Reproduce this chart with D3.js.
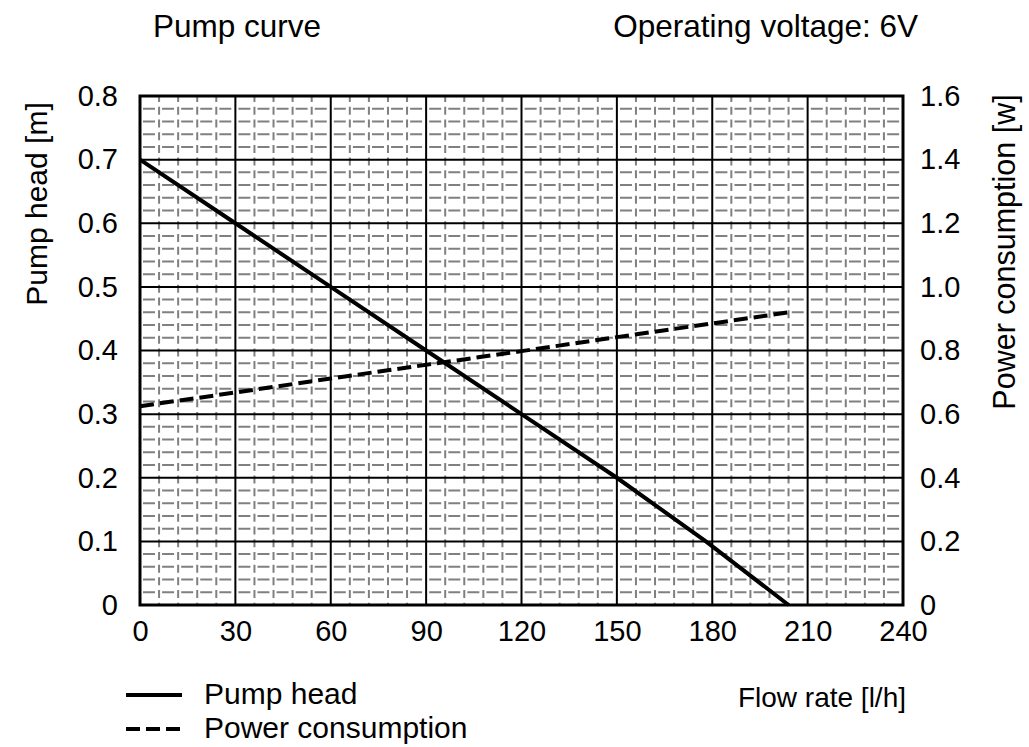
<!DOCTYPE html>
<html><head><meta charset="utf-8">
<script src="https://cdn.jsdelivr.net/npm/d3@7"></script>
<style>body{margin:0;background:#fff}text{font-family:"Liberation Sans",Arial,sans-serif;fill:#000}</style>
</head><body><svg id="c" width="1029" height="747"></svg>
<script>
const xTicks = [0,30,60,90,120,150,180,210,240];
const yLeftTicks = [0,0.1,0.2,0.3,0.4,0.5,0.6,0.7,0.8];
const yRightTicks = [0,0.2,0.4,0.6,0.8,1.0,1.2,1.4,1.6];
const headFlow = [0,30,60,90,120,150,178,204];
const headValues = [0.7,0.6,0.5,0.4,0.3,0.2,0.1,0];
const powerFlow = [0,30,60,90,120,150,180,204];
const powerValues = [0.625,0.668,0.712,0.755,0.798,0.842,0.885,0.92];

const svg = d3.select("#c");
const L=140,R=903,T=96,B=605;
const x = d3.scaleLinear().domain([0,240]).range([L,R]);
const yl = d3.scaleLinear().domain([0,0.8]).range([B,T]);
const yr = d3.scaleLinear().domain([0,1.6]).range([B,T]);

// minor grid
const minorX = d3.range(0,241,6).filter(v=>v%30!==0);
const minorY = d3.range(0,81,2).filter(v=>v%10!==0).map(v=>v/100);
const g = svg.append("g");
g.selectAll(".mx").data(minorX).join("line")
 .attr("x1",d=>x(d)).attr("x2",d=>x(d)).attr("y1",T).attr("y2",B)
 .attr("stroke","#808080").attr("stroke-width",2).attr("stroke-dasharray","8,4.72").attr("stroke-dashoffset",2);
g.selectAll(".my").data(minorY).join("line")
 .attr("x1",L).attr("x2",R).attr("y1",d=>yl(d)).attr("y2",d=>yl(d))
 .attr("stroke","#808080").attr("stroke-width",2).attr("stroke-dasharray","12,7.08").attr("stroke-dashoffset",-3);
// major grid
g.selectAll(".Mx").data(xTicks).join("line")
 .attr("x1",d=>x(d)).attr("x2",d=>x(d)).attr("y1",T).attr("y2",B)
 .attr("stroke","#000").attr("stroke-width",2);
g.selectAll(".My").data(yLeftTicks).join("line")
 .attr("x1",L).attr("x2",R).attr("y1",d=>yl(d)).attr("y2",d=>yl(d))
 .attr("stroke","#000").attr("stroke-width",2);
svg.append("rect").attr("x",L).attr("y",T).attr("width",R-L).attr("height",B-T)
 .attr("fill","none").attr("stroke","#000").attr("stroke-width",3);

const fs = 29;
const ax = svg.append("g").attr("transform",`translate(0,${B})`)
 .call(d3.axisBottom(x).tickValues(xTicks).tickSize(0).tickPadding(15).tickFormat(d3.format("d")));
const ayl = svg.append("g").attr("transform",`translate(${L},0)`)
 .call(d3.axisLeft(yl).tickValues(yLeftTicks).tickSize(0).tickPadding(22).tickFormat(d=>d===0?"0":d3.format(".1f")(d)));
const ayr = svg.append("g").attr("transform",`translate(${R},0)`)
 .call(d3.axisRight(yr).tickValues(yRightTicks).tickSize(0).tickPadding(17).tickFormat(d=>d===0?"0":d3.format(".1f")(d)));
[ax,ayl,ayr].forEach(a=>{a.select(".domain").remove();a.selectAll("text").attr("font-size",fs).attr("font-family","Liberation Sans, Arial, sans-serif").attr("fill","#000");});

// lines
const lh = d3.line().x((d,i)=>x(headFlow[i])).y(d=>yl(d));
svg.append("path").attr("d",lh(headValues)).attr("fill","none").attr("stroke","#000").attr("stroke-width",4);
const lp = d3.line().x((d,i)=>x(powerFlow[i])).y(d=>yr(d));
svg.append("path").attr("d",lp(powerValues)).attr("fill","none").attr("stroke","#000").attr("stroke-width",4).attr("stroke-dasharray","14,6");

// titles
svg.append("text").attr("x",153).attr("y",37).attr("font-size",31.5).text("Pump curve");
svg.append("text").attr("x",918).attr("y",37).attr("font-size",31.5).attr("text-anchor","end").text("Operating voltage: 6V");
svg.append("text").attr("transform",`translate(47,204) rotate(-90)`).attr("font-size",30).attr("text-anchor","middle").text("Pump head [m]");
svg.append("text").attr("transform",`translate(1015,252) rotate(-90)`).attr("font-size",30.5).attr("text-anchor","middle").text("Power consumption [w]");
svg.append("text").attr("x",906).attr("y",707).attr("font-size",28).attr("text-anchor","end").text("Flow rate [l/h]");

// legend
svg.append("line").attr("x1",126).attr("x2",182).attr("y1",695).attr("y2",695).attr("stroke","#000").attr("stroke-width",4);
svg.append("line").attr("x1",126).attr("x2",182).attr("y1",729).attr("y2",729).attr("stroke","#000").attr("stroke-width",4).attr("stroke-dasharray","14,6");
svg.append("text").attr("x",204).attr("y",704).attr("font-size",30).text("Pump head");
svg.append("text").attr("x",204).attr("y",738).attr("font-size",30).text("Power consumption");
</script></body></html>
